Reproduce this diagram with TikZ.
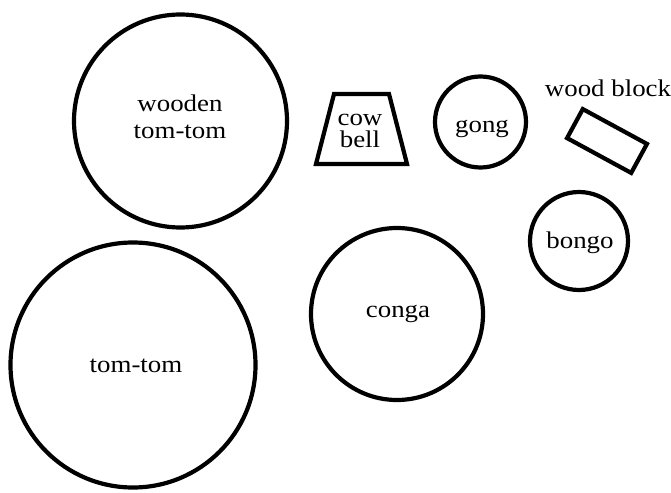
\documentclass[tikz,border=0pt]{standalone}
\usepackage{fontspec}
\setmainfont[FakeStretch=1.12]{Liberation Serif}
\begin{document}
\begin{tikzpicture}[x=1pt,y=-1pt,
  drum/.style={circle,draw,line width=4.2pt,inner sep=0pt},
  block/.style={rectangle,draw,line width=4.2pt,inner sep=0pt},
  lbl/.style={font=\fontsize{24}{26}\selectfont,inner sep=0pt,anchor=base}]
\useasboundingbox (0,0) rectangle (671,492);
\node[drum,minimum size=213pt] (wtt) at (180.5,121) {};
\node[drum,minimum size=245pt] (tt) at (133,365) {};
\node[drum,minimum size=172pt] (conga) at (397,314) {};
\node[drum,minimum size=91pt] (gong) at (480.5,122) {};
\node[drum,minimum size=98pt] (bongo) at (579,241) {};
\node[lbl] (wttA) at (180,112) {wooden};
\node[lbl] (wttB) at (180,138) {tom-tom};
\node[lbl] (ttt) at (136,372) {tom-tom};
\node[lbl] (congat) at (398,317) {conga};
\node[lbl] (gongt) at (482,132) {gong};
\node[lbl] (bongot) at (580,248) {bongo};
% cow bell
\coordinate (cb1) at (334,94);
\coordinate (cb2) at (389,94);
\coordinate (cb3) at (407,164);
\coordinate (cb4) at (316,164);
\draw[line width=4.2pt,line join=miter] (cb1) -- (cb2) -- (cb3) -- (cb4) -- cycle;
\node[lbl] (cbA) at (360,125) {cow};
\node[lbl] (cbB) at (360,147) {bell};
% wood block
\node[block,minimum width=73pt,minimum height=33pt,rotate=-28.5] (wb) at (607,141) {};
\node[lbl] (wbt) at (608,97) {wood block};
\end{tikzpicture}
\end{document}
